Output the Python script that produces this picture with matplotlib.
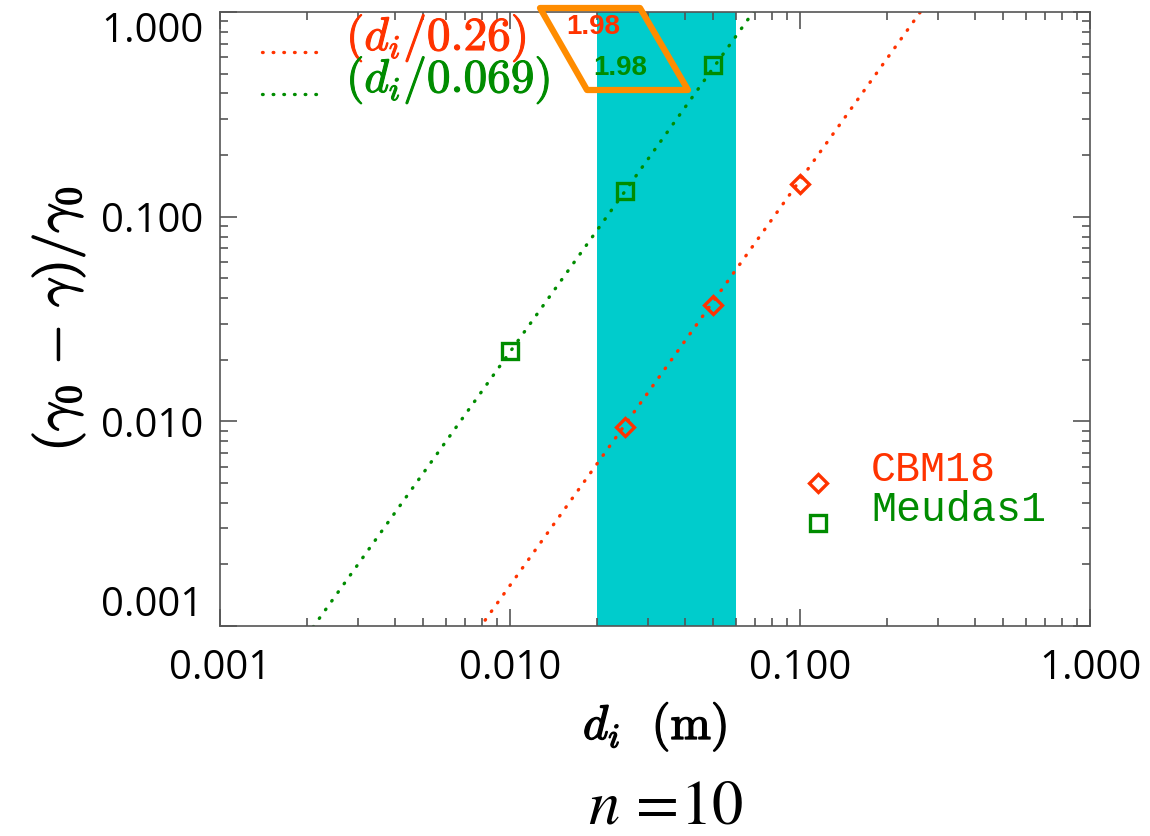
import numpy as np
import matplotlib
matplotlib.use("Agg")
import matplotlib.pyplot as plt
import matplotlib.patheffects as pe
from matplotlib.patches import Polygon
from matplotlib.lines import Line2D

# data
cbm_d = [0.025, 0.05, 0.1]
cbm_g = [0.0094, 0.037, 0.145]
meu_d = [0.01, 0.025, 0.05]
meu_g = [0.0221, 0.133, 0.55]

# fits (d/d0)^p
fit_d0 = [0.26, 0.069]
fit_p = [1.98, 1.98]
fit_lbl = ["0.26", "0.069"]

band = [0.02, 0.06]

red = "#ff3300"
green = "#008c00"
cyan = "#00cccc"
orange = "#ff8c00"
dots = (0, (0.2, 3.0))

W, H = 1150, 836
def fx(px):
    return px / W
def fy(py):
    return 1 - py / H

fig = plt.figure(figsize=(11.5, 8.36), dpi=100)
ax = fig.add_axes([fx(220), fy(626), 870/W, 614/H])

ax.set_xscale("log")
ax.set_yscale("log")
ax.set_xlim(0.001, 1)
ax.set_ylim(0.001, 1)

ax.axvspan(band[0], band[1], color=cyan, lw=0, zorder=1)

xx = np.logspace(-3, 0, 400)
for d0, p, c in zip(fit_d0, fit_p, [red, green]):
    ax.plot(xx, (xx/d0)**p, color=c, lw=2.4, ls=dots,
            dash_capstyle="round", zorder=2)

ax.plot(cbm_d, cbm_g, ls="none", marker="D", ms=9.5, mfc="none", mec=red, mew=2.4, zorder=3)
ax.plot(meu_d, meu_g, ls="none", marker="s", ms=12, mfc="none", mec=green, mew=2.4, zorder=3)

# ticks
ax.tick_params(which="both", direction="in", top=True, right=True, colors="#555555",
               labelcolor="black")
ax.tick_params(which="major", length=12, width=1.2)
ax.tick_params(which="minor", length=6, width=1.2)
ax.tick_params(axis="x", pad=16)
ax.tick_params(axis="y", pad=12)
ticks = [0.001, 0.01, 0.1, 1.0]
ax.set_xticks(ticks)
ax.set_xticklabels(["%.3f" % t for t in ticks], family="Open Sans", fontsize=29)
ax.set_yticks(ticks)
ylabs = ax.set_yticklabels(["%.3f" % t for t in ticks], family="Open Sans", fontsize=29)
# IDL style: end labels pulled inside the axis range
ylabs[0].set_va("bottom")
ylabs[-1].set_va("top")
for s in ax.spines.values():
    s.set_color("#555555")
    s.set_linewidth(1.2)

bold = [pe.withStroke(linewidth=1.0, foreground="black")]
xl = ax.set_xlabel(r"$d_i\ \ \mathrm{(m)}$", fontsize=35, math_fontfamily="cm", labelpad=8)
xl.set_path_effects(bold)
yl = ax.set_ylabel(r"$(\gamma_0\,-\,\gamma)/\gamma_0$", fontsize=38, math_fontfamily="cm", labelpad=10)
yl.set_path_effects(bold)

# fit legend (top left)
for i, (lbl, p, c) in enumerate(zip(fit_lbl, fit_p, [red, green])):
    ys = [52, 94][i]
    fig.add_artist(Line2D([fx(262), fx(326)], [fy(ys), fy(ys)], color=c, lw=2.4,
                          ls=dots, dash_capstyle="round"))
    t = fig.text(fx(346), fy([38, 80][i]), r"$(d_i/%s)$" % lbl, color=c, fontsize=34,
                 math_fontfamily="cm", va="center", ha="left")
    t.set_path_effects([pe.withStroke(linewidth=0.8, foreground=c)])
    fig.text(fx([566, 593][i]), fy([27, 68][i]), "%.2f" % p, color=c, fontsize=20,
             fontweight="bold", family="Liberation Sans", va="center", ha="left")

para = Polygon([(fx(540), fy(8)), (fx(640), fy(8)), (fx(688), fy(90)), (fx(587), fy(90))],
               closed=True, fill=False, ec=orange, lw=4.5, joinstyle="round",
               transform=fig.transFigure, zorder=5)
fig.add_artist(para)

# marker legend (bottom right)
leg_names = ["CBM18", "Meudas1"]
leg_mk = ["D", "s"]
leg_ms = [9, 11]
for i, (nm, mk, ms, c) in enumerate(zip(leg_names, leg_mk, leg_ms, [red, green])):
    fig.add_artist(Line2D([fx(818)], [fy([483, 523][i])], ls="none", marker=mk, ms=ms,
                          mfc="none", mec=c, mew=2.4))
    fig.text(fx(871), fy([470, 510][i]), nm, color=c, fontsize=30,
             family="Liberation Mono", va="center", ha="left")

fig.text(fx(666), fy(807), r"$n\,=\!10$", fontsize=45, math_fontfamily="stix",
         ha="center", va="center")

fig.savefig("out.png", dpi=100)
